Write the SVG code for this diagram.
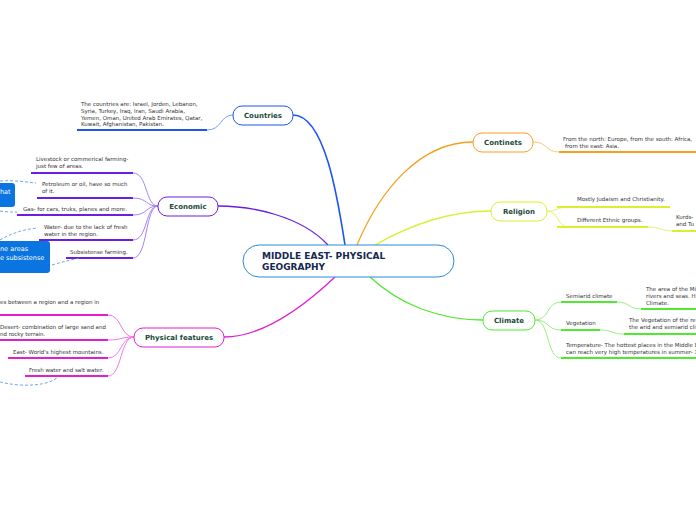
<svg xmlns="http://www.w3.org/2000/svg" width="696" height="520" viewBox="0 0 696 520">
<defs>
<style>
.t{font-family:"DejaVu Sans",Verdana,sans-serif;font-size:5.5px;fill:#333}
.n{font-family:"DejaVu Sans",Verdana,sans-serif;font-size:7px;font-weight:bold;fill:#1b4a3a;text-anchor:middle}
.c{font-family:"DejaVu Sans",Verdana,sans-serif;font-size:9px;font-weight:bold;fill:#152850}
.w{font-family:"DejaVu Sans",Verdana,sans-serif;font-size:6.5px;fill:#fff}
.box{fill:#fff;stroke-width:1}
path{fill:none}
.u{stroke-width:2}
.d{stroke:#4a90e0;stroke-width:0.8;stroke-dasharray:3 2;fill:none}
</style>
<marker id="ah" viewBox="0 0 6 6" refX="5" refY="3" markerWidth="5" markerHeight="5" orient="auto"><path d="M0,0 L6,3 L0,6 Z" fill="#4a90e0"/></marker>
</defs>
<g id="connectors">
<path d="M345,245 C338,200 325,115 293,115" stroke="#1e55f0" stroke-width="1.6"/>
<path d="M357,245 C380,190 420,142 473,142" stroke="#f5a020" stroke-width="1.3"/>
<path d="M375,245 C410,225 450,211 491,211" stroke="#d8f030" stroke-width="1.3"/>
<path d="M328,245 C300,215 250,206 218,206" stroke="#6a1ee0" stroke-width="1.3"/>
<path d="M335,277 C300,310 260,337 224,337" stroke="#e020d0" stroke-width="1.3"/>
<path d="M370,277 C400,305 440,320 483,320" stroke="#50e830" stroke-width="1.3"/>
<path class="u" d="M77,130 H207" stroke="#1e55f0"/>
<path d="M207,130 C222,130 220,115 233,115" stroke="#7aa0f8" stroke-width="1"/>
<path d="M533,142 C548,142 545,152 559,152" stroke="#f8c878" stroke-width="1"/>
<path class="u" d="M559,152 H696" stroke="#f5a020"/>
<path d="M547,211 C560,211 555,207 570,207" stroke="#e4f470" stroke-width="1"/>
<path class="u" d="M557,207 H670" stroke="#d8f030"/>
<path d="M547,211 C560,211 555,227 570,227" stroke="#e4f470" stroke-width="1"/>
<path class="u" d="M557,227 H648" stroke="#d8f030"/>
<path d="M648,227 C662,227 660,231 674,231" stroke="#e4f470" stroke-width="1"/>
<path class="u" d="M672,231 H696" stroke="#d8f030"/>
<path class="u" d="M31,173 H133" stroke="#6a1ee0"/>
<path class="u" d="M37,198 H133" stroke="#6a1ee0"/>
<path class="u" d="M17,215 H133" stroke="#6a1ee0"/>
<path class="u" d="M39,240 H133" stroke="#6a1ee0"/>
<path class="u" d="M66,258 H133" stroke="#6a1ee0"/>
<path d="M133,173 C148,173 145,206 158,206 M133,198 C148,198 145,206 158,206 M133,215 C148,215 145,206 158,206 M133,240 C148,240 145,206 158,206 M133,258 C148,258 145,206 158,206" stroke="#a882f5" stroke-width="1"/>
<path class="u" d="M0,315 H108" stroke="#e020d0"/>
<path class="u" d="M0,340 H108" stroke="#e020d0"/>
<path class="u" d="M8,358 H108" stroke="#e020d0"/>
<path class="u" d="M25,376 H108" stroke="#e020d0"/>
<path d="M108,315 C122,315 120,337 134,337 M108,340 C122,340 120,337 134,337 M108,358 C122,358 120,337 134,337 M108,376 C122,376 120,337 134,337" stroke="#f07ae8" stroke-width="1"/>
<path d="M535,320 C550,320 546,302 561,302 M535,320 C550,320 546,330 561,330 M535,320 C550,320 546,358 561,358" stroke="#98f080" stroke-width="1"/>
<path class="u" d="M561,302 H617" stroke="#50e830"/>
<path d="M617,302 C630,302 628,309 641,309" stroke="#98f080" stroke-width="1"/>
<path class="u" d="M641,309 H696" stroke="#50e830"/>
<path class="u" d="M561,330 H600" stroke="#50e830"/>
<path d="M600,330 C613,330 611,334 624,334" stroke="#98f080" stroke-width="1"/>
<path class="u" d="M624,334 H696" stroke="#50e830"/>
<path class="u" d="M561,358 H696" stroke="#50e830"/>
<path class="d" d="M0,181 C15,180 25,182 36,183" marker-end="url(#ah)"/>
<path class="d" d="M0,211 C6,212 11,212 17,212" marker-end="url(#ah)"/>
<path class="d" d="M0,240 C12,233 25,229 38,228" marker-end="url(#ah)"/>
<path class="d" d="M52,265 C62,262 70,260 80,258" marker-end="url(#ah)"/>
<path class="d" d="M0,382 C25,388 50,385 58,377" marker-end="url(#ah)"/>
</g>
<g id="center">
<rect class="box" x="243" y="245" width="211" height="32" rx="16" stroke="#2a8ad6"/>
<text class="c" x="262" y="259">MIDDLE EAST- PHYSICAL</text>
<text class="c" x="262" y="270">GEOGRAPHY</text>
</g>
<g id="countries">
<rect class="box" x="233" y="106" width="60" height="19" rx="9" stroke="#1e55f0"/>
<text class="n" x="263" y="118">Countries</text>
<text class="t" x="81" y="106">The countries are: Israel, Jorden, Lebanon,</text>
<text class="t" x="81" y="113">Syria, Turkey, Iraq, Iran, Saudi Arabia,</text>
<text class="t" x="81" y="120">Yemen, Oman, United Arab Emirates, Qatar,</text>
<text class="t" x="81" y="126">Kuwait, Afghanistan, Pakistan.</text>
</g>
<g id="continents">
<rect class="box" x="473" y="133" width="60" height="19" rx="9" stroke="#f5a020"/>
<text class="n" x="503" y="145">Continets</text>
<text class="t" x="563" y="141">From the north: Europe, from the south: Africa,</text>
<text class="t" x="565" y="148">from the east: Asia.</text>
</g>
<g id="religion">
<rect class="box" x="491" y="202" width="56" height="19" rx="9" stroke="#d8f030"/>
<text class="n" x="519" y="214">Religion</text>
<text class="t" x="577" y="201">Mostly Judaism and Christianity.</text>
<text class="t" x="577" y="222">Different Ethnic groups.</text>
<text class="t" x="676" y="219">Kurds-</text>
<text class="t" x="676" y="226">and Tu</text>
</g>
<g id="economic">
<rect class="box" x="158" y="197" width="60" height="19" rx="9" stroke="#6a1ee0"/>
<text class="n" x="188" y="209">Economic</text>
<text class="t" x="36" y="161">Livestock or commerical farming-</text>
<text class="t" x="36" y="168">just few of areas.</text>
<text class="t" x="42" y="186">Petroleum or oil, have so much</text>
<text class="t" x="42" y="193">of it.</text>
<text class="t" x="23" y="211">Gas- for cars, truks, planes and more.</text>
<text class="t" x="44" y="229">Water- due to the lack of fresh</text>
<text class="t" x="44" y="236">water in the region.</text>
<text class="t" x="70" y="254">Subsistense farming.</text>
</g>
<g id="note1">
<rect x="-10" y="183" width="25" height="24" rx="3" fill="#0a74e0"/>
<text class="w" x="0" y="194">hat</text>
</g>
<g id="note2">
<rect x="-10" y="241" width="60" height="32" rx="3" fill="#0a74e0"/>
<text class="w" x="0" y="251">ne areas</text>
<text class="w" x="0" y="260">e subsistense</text>
</g>
<g id="physical">
<rect class="box" x="134" y="328" width="90" height="19" rx="9" stroke="#e020d0"/>
<text class="n" x="179" y="340">Physical features</text>
<text class="t" x="0" y="304">es between a region and a region in</text>
<text class="t" x="0" y="329">Desert- combination of large sand and</text>
<text class="t" x="0" y="336">nd rocky terrain.</text>
<text class="t" x="13" y="354">East- World's highest mountains.</text>
<text class="t" x="29" y="372">Fresh water and salt water.</text>
</g>
<g id="climate">
<rect class="box" x="483" y="311" width="52" height="19" rx="9" stroke="#50e830"/>
<text class="n" x="509" y="323">Climate</text>
<text class="t" x="566" y="298">Semiarid climate</text>
<text class="t" x="646" y="291">The area of the Mi</text>
<text class="t" x="646" y="298">rivers and seas. H</text>
<text class="t" x="646" y="305">Climate.</text>
<text class="t" x="566" y="325">Vegetation</text>
<text class="t" x="629" y="322">The Vegetation of the re</text>
<text class="t" x="629" y="329">the arid and semiarid cli</text>
<text class="t" x="566" y="347">Temperature- The hottest places in the Middle E</text>
<text class="t" x="566" y="354">can reach very high temperatures in summer- 1</text>
</g>
</svg>
